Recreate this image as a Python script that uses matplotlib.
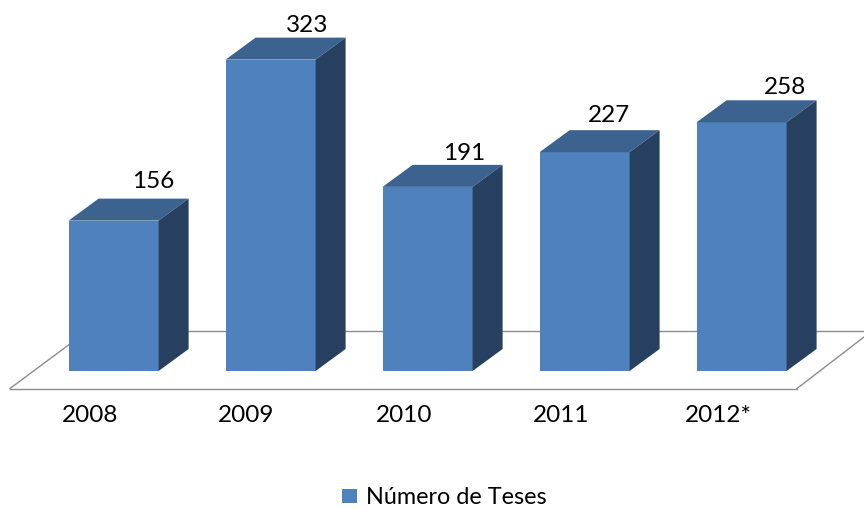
import matplotlib
matplotlib.use("Agg")
import matplotlib.pyplot as plt
from matplotlib.patches import Polygon, Rectangle

categories = ["2008", "2009", "2010", "2011", "2012*"]
values = [156, 323, 191, 227, 258]
series_name = "Número de Teses"

W, H = 864, 509
FRONT, TOP, SIDE = "#4F81BD", "#3C6290", "#27405F"
GRID = "#8C8C8C"

plt.rcParams["font.family"] = ["Lato", "DejaVu Sans"]
fig = plt.figure(figsize=(W / 100, H / 100), dpi=100)
ax = fig.add_axes([0, 0, 1, 1])

# scale: x index -> pixel, value -> pixel
x0_px, x_step = 113.6, 157.0
y0_px, y_scale = 371.0, 0.964
ax.set_xlim(-x0_px / x_step, (W - x0_px) / x_step)
ax.set_ylim((y0_px - H) / y_scale, y0_px / y_scale)
ax.axis("off")

bar_w = 90 / x_step
dx = 30 / x_step      # depth in x
dy = 22 / y_scale     # depth in value units


def px(x, y):
    return (x - x0_px) / x_step, (y0_px - y) / y_scale


# floor
floor_line = dict(color=GRID, lw=1.0, zorder=1)
ax.plot(*zip(px(10, 388.5), px(797, 388.5)), **floor_line)
ax.plot(*zip(px(10, 388.5), px(88, 330.5)), **floor_line)
ax.plot(*zip(px(88, 330.5), px(864, 330.5)), **floor_line)
ax.plot(*zip(px(797, 388.5), px(864, 337)), **floor_line)

for i, v in enumerate(values):
    l, r = i - bar_w / 2, i + bar_w / 2
    ax.bar(i, v, width=bar_w, color=FRONT, linewidth=0, zorder=3)
    ax.add_patch(Polygon([(l, v), (r, v), (r + dx, v + dy), (l + dx, v + dy)],
                         closed=True, fc=TOP, ec="none", zorder=3))
    ax.add_patch(Polygon([(r, 0), (r + dx, dy), (r + dx, v + dy), (r, v)],
                         closed=True, fc=SIDE, ec="none", zorder=3))

# value labels (pixel anchors of the labels as placed in the reference)
label_x = [153, 307, 464, 609, 785]
label_y = [181, 25, 153, 115, 88]
for lx, ly, v in zip(label_x, label_y, values):
    xd, yd = px(lx, ly)
    ax.text(xd, yd, str(v), ha="center", va="center",
            fontsize=17.5, color="black", zorder=5)

# category labels
cat_px = [90, 246, 404, 561, 718]
for c, xp in zip(categories, cat_px):
    xd, yd = px(xp, 415)
    ax.text(xd, yd, c, ha="center", va="center", fontsize=17.5, color="black")

# legend
ax.add_patch(Rectangle(px(342, 503), 15 / x_step, 14 / y_scale, fc=FRONT, ec="none"))
xd, yd = px(365.5, 498)
ax.text(xd, yd, series_name, ha="left", va="center", fontsize=16.8, color="black")

fig.savefig("out.png", dpi=100, facecolor="white")
